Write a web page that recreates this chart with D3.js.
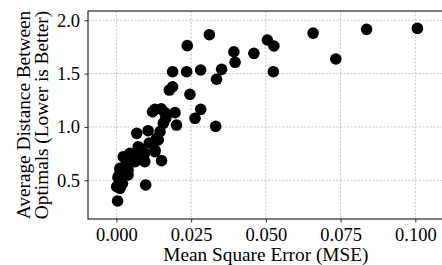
<!DOCTYPE html>
<html>
<head>
<meta charset="utf-8">
<script src="https://cdn.jsdelivr.net/npm/d3@7"></script>
<style>
  body { margin: 0; background: #fff; }
  svg { display: block; }
  .grid line { stroke: #b8b8b8; stroke-width: 0.8; stroke-dasharray: 2,1.6; }
</style>
</head>
<body>
<svg class="chart" width="442" height="265"></svg>
<script>
// MSE vs. average distance between optimals
const mse = [
  0.1007, 0.0837, 0.0658, 0.0734, 0.0505, 0.0527, 0.0525, 0.0460, 0.0311, 0.0237,
  0.0393, 0.0397, 0.0352, 0.0335, 0.0282, 0.0235, 0.0188, 0.0188, 0.0177, 0.0246,
  0.0129, 0.0121, 0.0162, 0.0196, 0.0282, 0.0263, 0.0157, 0.0201, 0.0332, 0.0106,
  0.0068, 0.0146, 0.0134, 0.0140, 0.0073, 0.0079, 0.0129, 0.0129, 0.0095, 0.0045,
  0.0068, 0.0051, 0.0023, 0.0151, 0.0095, 0.0062, 0.0012, 0.0039, 0.0012, 0.0039,
  0.0006, 0.0006, 0.0098, 0.0001, 0.0012, 0.0004, 0.0020, 0.0030, 0.0050, 0.0085,
  0.0110, 0.0165, 0.0150
];
const avgDist = [
  1.924, 1.915, 1.880, 1.637, 1.815, 1.759, 1.518, 1.690, 1.865, 1.762,
  1.705, 1.606, 1.540, 1.447, 1.534, 1.518, 1.518, 1.377, 1.346, 1.306,
  1.165, 1.143, 1.134, 1.134, 1.165, 1.081, 1.034, 1.018, 1.006, 0.965,
  0.940, 0.956, 0.894, 0.878, 0.815, 0.800, 0.784, 0.768, 0.753, 0.753,
  0.753, 0.737, 0.721, 0.684, 0.674, 0.674, 0.612, 0.597, 0.597, 0.550,
  0.534, 0.519, 0.456, 0.440, 0.425, 0.306, 0.470, 0.640, 0.700, 0.720,
  0.850, 1.080, 1.170
];
const xTicks = [0, 0.025, 0.05, 0.075, 0.1];
const yTicks = [0.5, 1.0, 1.5, 2.0];

const data = mse.map((m, i) => ({x: m, y: avgDist[i]}));

const font = "'Liberation Serif', 'Times New Roman', Times, serif";
const tickSize = '18.5px';
const labelSize = '19.3px';

const margin = {top: 11, right: -8, bottom: 46, left: 88};
const width = 442 - margin.left - margin.right;
const height = 265 - margin.top - margin.bottom;

const x = d3.scaleLinear().domain([-0.0095, 0.1116]).range([0, width]);
const y = d3.scaleLinear().domain([0.137, 2.087]).range([height, 0]);

const svg = d3.select('.chart')
  .attr('font-family', font);
const g = svg.append('g')
  .attr('transform', `translate(${margin.left},${margin.top})`);

// grid
g.append('g')
  .attr('class', 'grid')
  .selectAll('line')
  .data(xTicks)
  .enter().append('line')
  .attr('x1', d => x(d)).attr('x2', d => x(d))
  .attr('y1', 0).attr('y2', height);

g.append('g')
  .attr('class', 'grid')
  .selectAll('line')
  .data(yTicks)
  .enter().append('line')
  .attr('x1', 0).attr('x2', width)
  .attr('y1', d => y(d)).attr('y2', d => y(d));

// points
g.selectAll('.dot')
  .data(data)
  .enter().append('circle')
  .attr('class', 'dot')
  .attr('cx', d => x(d.x))
  .attr('cy', d => y(d.y))
  .attr('r', 5.8)
  .attr('fill', '#000');

// axes
const xAxis = d3.axisBottom(x).tickValues(xTicks).tickFormat(d3.format('.3f'))
  .tickSizeOuter(0).tickSize(3.5).tickPadding(5);
const yAxis = d3.axisLeft(y).tickValues(yTicks).tickFormat(d3.format('.1f'))
  .tickSizeOuter(0).tickSize(3.5).tickPadding(4.5);

const gx = g.append('g')
  .attr('transform', `translate(0,${height})`)
  .call(xAxis);
const gy = g.append('g').call(yAxis);

[gx, gy].forEach(a => {
  a.attr('font-family', font).attr('font-size', tickSize);
  a.select('.domain').remove();
  a.selectAll('.tick line').attr('stroke', '#000').attr('stroke-width', 0.8);
  a.selectAll('.tick text').attr('fill', '#000');
});

// spines
g.append('rect')
  .attr('x', 0).attr('y', 0)
  .attr('width', width).attr('height', height)
  .attr('fill', 'none')
  .attr('stroke', '#000')
  .attr('stroke-width', 1);

// labels
svg.append('text')
  .attr('x', margin.left + x(0.05))
  .attr('y', 261)
  .attr('text-anchor', 'middle')
  .attr('font-size', labelSize)
  .text('Mean Square Error (MSE)');

const yl = svg.append('text')
  .attr('transform', `translate(0,${margin.top + height / 2}) rotate(-90)`)
  .attr('text-anchor', 'middle')
  .attr('font-size', labelSize);
yl.append('tspan').attr('x', 0).attr('y', 30).text('Average Distance Between');
yl.append('tspan').attr('x', 0).attr('y', 47.7).text('Optimals (Lower is Better)');
</script>
</body>
</html>
